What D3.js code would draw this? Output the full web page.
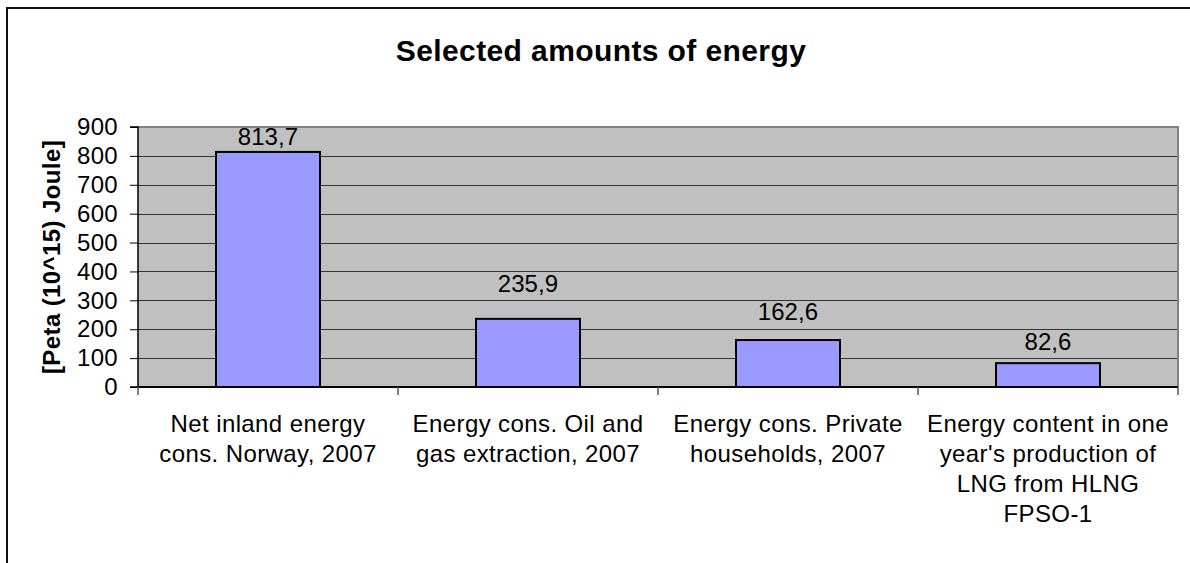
<!DOCTYPE html>
<html>
<head>
<meta charset="utf-8">
<script src="https://cdn.jsdelivr.net/npm/d3@7"></script>
<style>
  html, body { margin: 0; padding: 0; background: #fff; }
  svg { display: block; font-family: "Liberation Sans", Arial, sans-serif; }
</style>
</head>
<body>
<svg id="chart" width="1190" height="563"></svg>
<script>
// Chart data
const categories = [
  ["Net inland energy", "cons. Norway, 2007"],
  ["Energy cons. Oil and", "gas extraction, 2007"],
  ["Energy cons. Private", "households, 2007"],
  ["Energy content in one", "year's production of", "LNG from HLNG", "FPSO-1"]
];
const values = [813.7, 235.9, 162.6, 82.6];
const valueLabels = ["813,7", "235,9", "162,6", "82,6"];
const yTicks = [0, 100, 200, 300, 400, 500, 600, 700, 800, 900];
const title = "Selected amounts of energy";
const yTitle = "[Peta (10^15) Joule]";

// Layout
const W = 1190, H = 563;
const plot = { left: 138, top: 127, right: 1178, bottom: 387 };
const labelGap = [7, 27, 20, 13]; // distance of each value label above its bar

const svg = d3.select("#chart");

// Outer frame (top and left edges visible)
svg.append("path")
  .attr("d", `M7,${H} L7,8 L${W},8`)
  .attr("fill", "none").attr("stroke", "#111").attr("stroke-width", 2);

const x = d3.scaleBand()
  .domain(d3.range(categories.length))
  .range([plot.left, plot.right])
  .paddingInner(0.6).paddingOuter(0.3);
const xOuter = d3.scaleBand()
  .domain(d3.range(categories.length))
  .range([plot.left, plot.right]);
const y = d3.scaleLinear().domain([0, 900]).range([plot.bottom, plot.top]);

// Plot background
svg.append("rect")
  .attr("x", plot.left).attr("y", plot.top)
  .attr("width", plot.right - plot.left).attr("height", plot.bottom - plot.top)
  .attr("fill", "#c0c0c0");

// Gridlines
svg.append("g").selectAll("line")
  .data(yTicks.filter(d => d > 0 && d < 900))
  .join("line")
  .attr("x1", plot.left).attr("x2", plot.right)
  .attr("y1", d => Math.round(y(d)) + 0.5).attr("y2", d => Math.round(y(d)) + 0.5)
  .attr("stroke", "#333").attr("stroke-width", 1);

// Plot border (top / right)
svg.append("path")
  .attr("d", `M${plot.left},${plot.top} L${plot.right},${plot.top} L${plot.right},${plot.bottom}`)
  .attr("fill", "none").attr("stroke", "#808080").attr("stroke-width", 2);

// Bars
svg.append("g").selectAll("rect")
  .data(values)
  .join("rect")
  .attr("x", (d, i) => x(i))
  .attr("y", d => y(d))
  .attr("width", x.bandwidth())
  .attr("height", d => y(0) - y(d))
  .attr("fill", "#9999ff")
  .attr("stroke", "#000").attr("stroke-width", 2);

// Value labels
svg.append("g").selectAll("text")
  .data(values)
  .join("text")
  .attr("x", (d, i) => x(i) + x.bandwidth() / 2)
  .attr("y", (d, i) => y(d) - labelGap[i])
  .attr("text-anchor", "middle")
  .attr("font-size", 24).attr("letter-spacing", 0.1)
  .attr("fill", "#000")
  .text((d, i) => valueLabels[i]);

// Y axis
const yAxis = d3.axisLeft(y).tickValues(yTicks).tickSize(8).tickPadding(12).tickFormat(d3.format("d"));
const gy = svg.append("g").attr("transform", `translate(${plot.left},0)`).call(yAxis);
gy.select(".domain").attr("stroke", "#000").attr("stroke-width", 1.5).attr("d", `M-8,${plot.top}H0V${plot.bottom}H-8`);
gy.selectAll(".tick line").attr("stroke", "#000");
gy.selectAll(".tick text").attr("font-size", 24).attr("letter-spacing", 0.3)
  .attr("font-family", "Liberation Sans, Arial, sans-serif").attr("fill", "#000");

// X axis line and ticks at category boundaries
svg.append("line")
  .attr("x1", plot.left).attr("x2", plot.right)
  .attr("y1", plot.bottom).attr("y2", plot.bottom)
  .attr("stroke", "#000").attr("stroke-width", 2);
const bounds = d3.range(categories.length + 1).map(i => i < categories.length ? xOuter(i) : plot.right);
svg.append("g").selectAll("line")
  .data(bounds)
  .join("line")
  .attr("x1", d => d).attr("x2", d => d)
  .attr("y1", plot.bottom).attr("y2", plot.bottom + 8)
  .attr("stroke", "#555").attr("stroke-width", 1.5);

// Category labels
const cat = svg.append("g").selectAll("text")
  .data(categories)
  .join("text")
  .attr("text-anchor", "middle")
  .attr("font-size", 24).attr("letter-spacing", 0.4)
  .attr("fill", "#000");
cat.each(function(lines, i) {
  const cx = xOuter(i) + xOuter.bandwidth() / 2;
  d3.select(this).selectAll("tspan")
    .data(lines)
    .join("tspan")
    .attr("x", cx)
    .attr("y", (d, j) => 432 + j * 30)
    .text(d => d);
});

// Title
svg.append("text")
  .attr("x", 601).attr("y", 61)
  .attr("text-anchor", "middle")
  .attr("font-size", 30).attr("font-weight", "bold").attr("letter-spacing", 0.4)
  .attr("fill", "#000")
  .text(title);

// Y axis title
svg.append("text")
  .attr("transform", `translate(60,${(plot.top + plot.bottom) / 2}) rotate(-90)`)
  .attr("text-anchor", "middle")
  .attr("font-size", 24).attr("font-weight", "bold").attr("letter-spacing", 0.4)
  .attr("fill", "#000")
  .text(yTitle);
</script>
</body>
</html>
